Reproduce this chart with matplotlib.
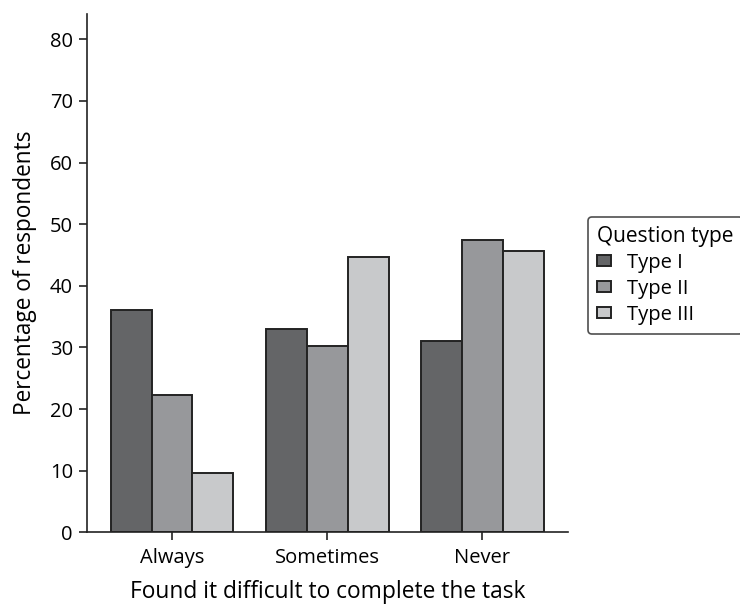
import matplotlib
matplotlib.use("Agg")
import matplotlib.pyplot as plt
from matplotlib.legend_handler import HandlerPatch
from matplotlib.patches import Rectangle
import numpy as np

categories = ["Always", "Sometimes", "Never"]
series_names = ["Type I", "Type II", "Type III"]
type1 = [36.0, 33.0, 31.0]
type2 = [22.2, 30.3, 47.4]
type3 = [9.7, 44.6, 45.6]
colors = ["#646567", "#97989b", "#c8c9cb"]

plt.rcParams["font.family"] = ["Open Sans", "DejaVu Sans"]


def small_square(legend, orig_handle, xdescent, ydescent, width, height, fontsize):
    # square pushed to the right end of the handle box (indented like the original)
    s = 6.5
    return Rectangle((width - s - xdescent, (height - s) / 2 - ydescent), s, s)


fig = plt.figure(figsize=(7.4, 6.05), dpi=100)
ax = fig.add_axes([86.7 / 740, 1 - 532.3 / 605, (568.3 - 86.7) / 740, (532.3 - 14) / 605])

x = np.arange(len(categories))
w = 0.264
for i, (vals, name) in enumerate(zip([type1, type2, type3], series_names)):
    ax.bar(x + (i - 1) * w, vals, w, color=colors[i], edgecolor="#232323",
           linewidth=1.4, label=name)

ax.set_xlim(-0.55, 2.555)
ax.set_ylim(0, 84.1)
ax.set_yticks(range(0, 81, 10))
ax.set_xticks(x)
ax.set_xticklabels(categories)
for s in ["top", "right"]:
    ax.spines[s].set_visible(False)
for s in ["left", "bottom"]:
    ax.spines[s].set_linewidth(1.2)
    ax.spines[s].set_color("#232323")
ax.tick_params(axis="both", labelsize=14.5, length=6, width=1.2, color="#232323", pad=4)
ax.tick_params(axis="x", pad=5)
ax.set_ylabel("Percentage of respondents", fontsize=16.3, labelpad=9)
ax.set_xlabel("Found it difficult to complete the task", fontsize=16.4, labelpad=9)

leg = fig.legend(loc="upper left", bbox_to_anchor=(588 / 740, 1 - 216.7 / 605),
                 title="Question type", fontsize=14.5, title_fontsize=15,
                 frameon=True, fancybox=True, edgecolor="#232323",
                 handlelength=0.69, handleheight=0.5, handletextpad=0.8,
                 labelspacing=0.3, borderpad=0.45, borderaxespad=0,
                 handler_map={Rectangle: HandlerPatch(patch_func=small_square)})
leg._legend_box.align = "left"
leg.get_frame().set_linewidth(1.2)

fig.savefig("out.png", dpi=100)
